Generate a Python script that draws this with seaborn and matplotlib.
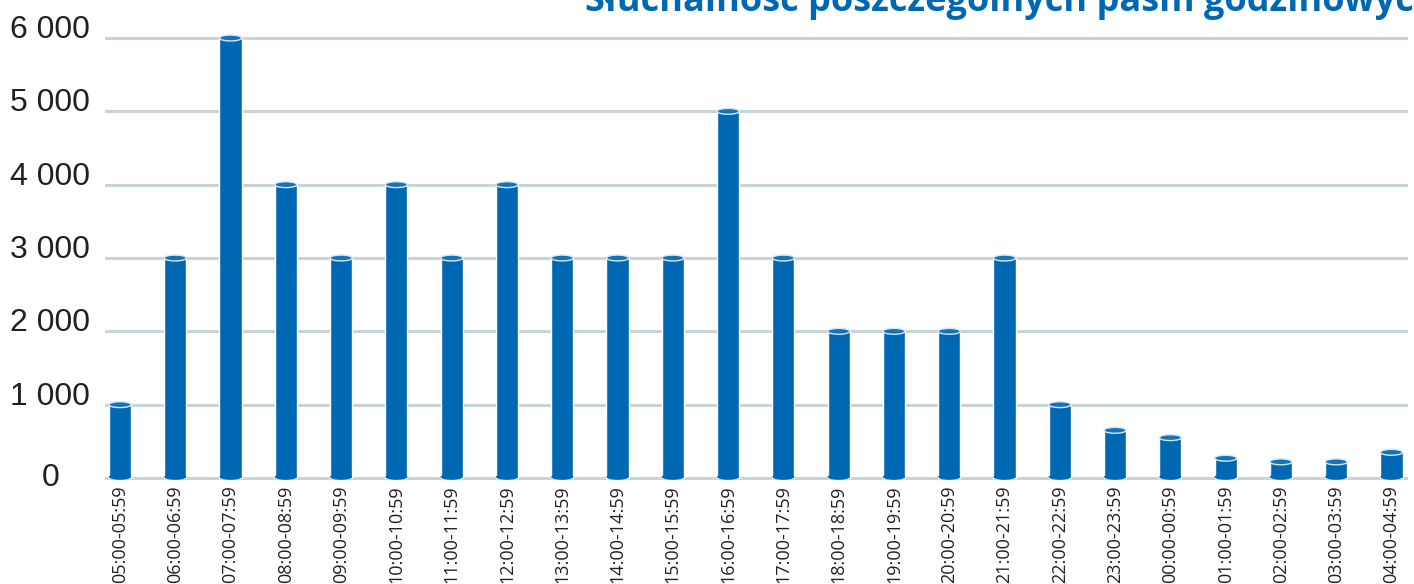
import matplotlib
matplotlib.use("Agg")
import matplotlib.pyplot as plt
from matplotlib.patches import Ellipse
import seaborn as sns
import pandas as pd

categories = ["05:00-05:59", "06:00-06:59", "07:00-07:59", "08:00-08:59", "09:00-09:59",
              "10:00-10:59", "11:00-11:59", "12:00-12:59", "13:00-13:59", "14:00-14:59",
              "15:00-15:59", "16:00-16:59", "17:00-17:59", "18:00-18:59", "19:00-19:59",
              "20:00-20:59", "21:00-21:59", "22:00-22:59", "23:00-23:59", "00:00-00:59",
              "01:00-01:59", "02:00-02:59", "03:00-03:59", "04:00-04:59"]
values = [1000, 3000, 6000, 4000, 3000, 4000, 3000, 4000, 3000, 3000, 3000, 5000,
          3000, 2000, 2000, 2000, 3000, 1000, 650, 550, 270, 220, 220, 350]
yticks = [0, 1000, 2000, 3000, 4000, 5000, 6000]
ytick_labels = ["0", "1 000", "2 000", "3 000", "4 000", "5 000", "6 000"]
title = "Słuchalność poszczególnych pasm godzinowych"

BLUE = "#0068b3"
GRID = "#c7d4d8"
TEXT = "#231f20"

sns.set_theme(style="white")
plt.rcParams["font.family"] = ["DejaVu Sans"]

df = pd.DataFrame({"pasmo": categories, "wartosc": values})

fig = plt.figure(figsize=(14.14, 5.84), dpi=100)
ax = fig.add_axes([0.0743, 0.174, 0.9215, 0.786])

sns.barplot(data=df, x="pasmo", y="wartosc", color=BLUE, saturation=1,
            width=0.4, ax=ax, zorder=3)

# cylinder look: rounded bottom and lighter top cap
for p in ax.patches[:]:
    cx = p.get_x() + p.get_width() / 2
    w = p.get_width()
    top = p.get_y() + p.get_height()
    ax.add_patch(Ellipse((cx, 15), w, 80, facecolor=BLUE, edgecolor="none", zorder=3))
    ax.add_patch(Ellipse((cx, top), w, 80, facecolor="#1273bb",
                         edgecolor="#d6e6f3", linewidth=1.0, zorder=4))

ax.set_xlim(-0.27, 23.3)
ax.set_ylim(-60, 6200)
ax.set_yticks(yticks, ytick_labels)
ax.yaxis.grid(True, color=GRID, linewidth=2.2, zorder=0)
ax.xaxis.grid(False)
ax.set_axisbelow(True)
for s in ax.spines.values():
    s.set_visible(False)
ax.set_xlabel("")
ax.set_ylabel("")

ax.tick_params(axis="y", length=0, pad=39.5, labelsize=23, labelcolor=TEXT)
for lab in ax.get_yticklabels():
    lab.set_fontfamily(["Liberation Sans", "DejaVu Sans"])
    lab.set_horizontalalignment("center")
    if lab.get_text() == "0":
        lab.set_verticalalignment("center")
    else:
        lab.set_verticalalignment("baseline")

ax.tick_params(axis="x", length=0, pad=2, labelsize=13, labelcolor=TEXT)
for lab in ax.get_xticklabels():
    lab.set_fontfamily(["Open Sans", "DejaVu Sans"])
    lab.set_rotation(90)
    lab.set_horizontalalignment("center")
    lab.set_verticalalignment("top")

fig.text(585 / 1414, 1 - 11 / 584, title, ha="left", va="baseline",
         fontsize=26, fontweight="bold", color=BLUE,
         family=["Open Sans", "DejaVu Sans"])

fig.savefig("out.png", dpi=100, facecolor="white")
